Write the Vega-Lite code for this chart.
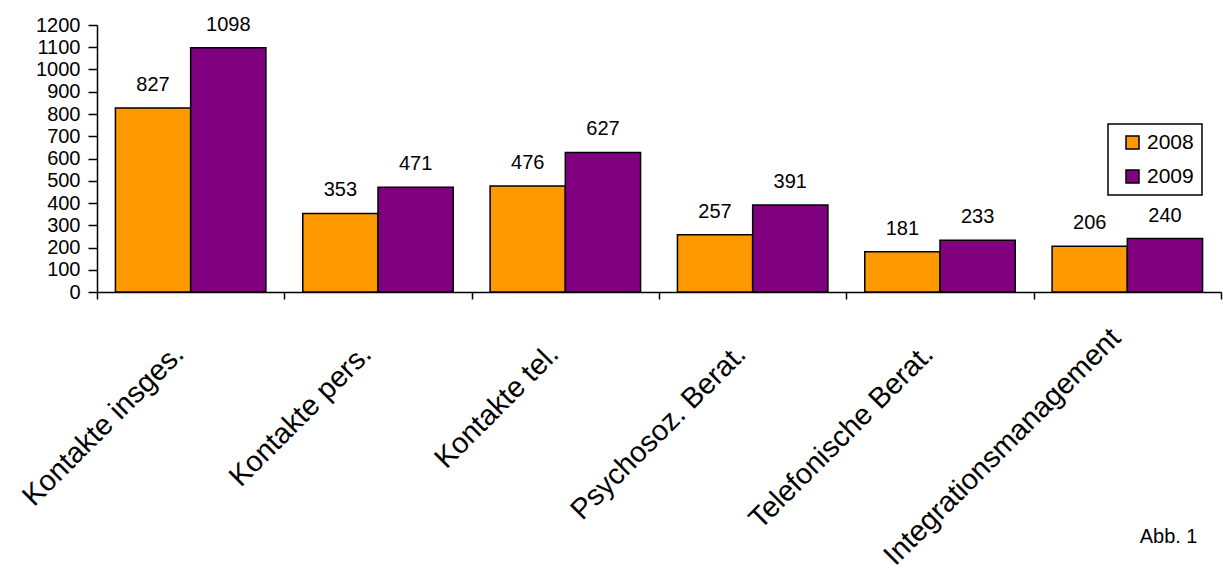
{
  "$schema": "https://vega.github.io/schema/vega-lite/v6.json",
  "width": 1124,
  "height": 267,
  "autosize": {"type": "none"},
  "padding": {"left": 97, "top": 25, "right": 2, "bottom": 278},
  "background": "white",
  "config": {
    "font": "Liberation Sans",
    "view": {"stroke": null},
    "axis": {"domainColor": "black", "tickColor": "black", "labelColor": "black", "domainWidth": 1.5, "tickWidth": 1.5, "grid": false}
  },
  "data": {
    "values": [
      {"kategorie": "Kontakte insges.", "jahr": "2008", "wert": 827},
      {"kategorie": "Kontakte insges.", "jahr": "2009", "wert": 1098},
      {"kategorie": "Kontakte pers.", "jahr": "2008", "wert": 353},
      {"kategorie": "Kontakte pers.", "jahr": "2009", "wert": 471},
      {"kategorie": "Kontakte tel.", "jahr": "2008", "wert": 476},
      {"kategorie": "Kontakte tel.", "jahr": "2009", "wert": 627},
      {"kategorie": "Psychosoz. Berat.", "jahr": "2008", "wert": 257},
      {"kategorie": "Psychosoz. Berat.", "jahr": "2009", "wert": 391},
      {"kategorie": "Telefonische Berat.", "jahr": "2008", "wert": 181},
      {"kategorie": "Telefonische Berat.", "jahr": "2009", "wert": 233},
      {"kategorie": "Integrationsmanagement", "jahr": "2008", "wert": 206},
      {"kategorie": "Integrationsmanagement", "jahr": "2009", "wert": 240}
    ]
  },
  "encoding": {
    "x": {
      "field": "kategorie", "type": "nominal", "sort": null,
      "scale": {"paddingInner": 0, "paddingOuter": 0},
      "axis": {
        "title": "Abb. 1", "titleFontSize": 20, "titleFontWeight": "normal", "titleColor": "black",
        "titleX": 1100, "titleY": 250, "titleAlign": "right", "titleBaseline": "alphabetic",
        "labelAngle": -45, "labelAlign": "right", "labelBaseline": "middle",
        "labelFontSize": 29, "labelOffset": -12,
        "labelPadding": {"condition": {"test": "datum.value === 'Integrationsmanagement'", "value": 34}, "value": 50},
        "tickBand": "extent", "tickSize": 7, "labelOverlap": false, "labelLimit": 0
      }
    },
    "xOffset": {"field": "jahr", "type": "nominal", "scale": {"paddingOuter": 0.245, "paddingInner": 0}},
    "y": {
      "field": "wert", "type": "quantitative",
      "scale": {"domain": [0, 1200], "nice": false},
      "axis": {"title": null, "format": "d", "values": [0,100,200,300,400,500,600,700,800,900,1000,1100,1200], "labelFontSize": 20, "tickSize": 9, "labelPadding": 8}
    }
  },
  "layer": [
    {
      "mark": {"type": "bar", "stroke": "black", "strokeWidth": 1.5},
      "encoding": {
        "color": {
          "field": "jahr", "type": "nominal",
          "scale": {"domain": ["2008", "2009"], "range": ["#FF9900", "#800080"]},
          "legend": {
            "title": null, "orient": "none", "legendX": 1011, "legendY": 99,
            "strokeColor": "black", "padding": 8, "fillColor": "white",
            "symbolType": "square", "symbolSize": 169, "symbolStrokeColor": "black", "symbolStrokeWidth": 1.5,
            "symbolOffset": 6, "labelFontSize": 21, "labelColor": "black", "rowPadding": 12, "labelOffset": 4,
            "encode": {"legend": {"update": {"strokeWidth": {"value": 1.5}}}}
          }
        }
      }
    },
    {
      "mark": {"type": "text", "baseline": "alphabetic", "dy": -17, "fontSize": 20, "color": "black"},
      "encoding": {"text": {"field": "wert", "type": "quantitative"}}
    }
  ]
}
